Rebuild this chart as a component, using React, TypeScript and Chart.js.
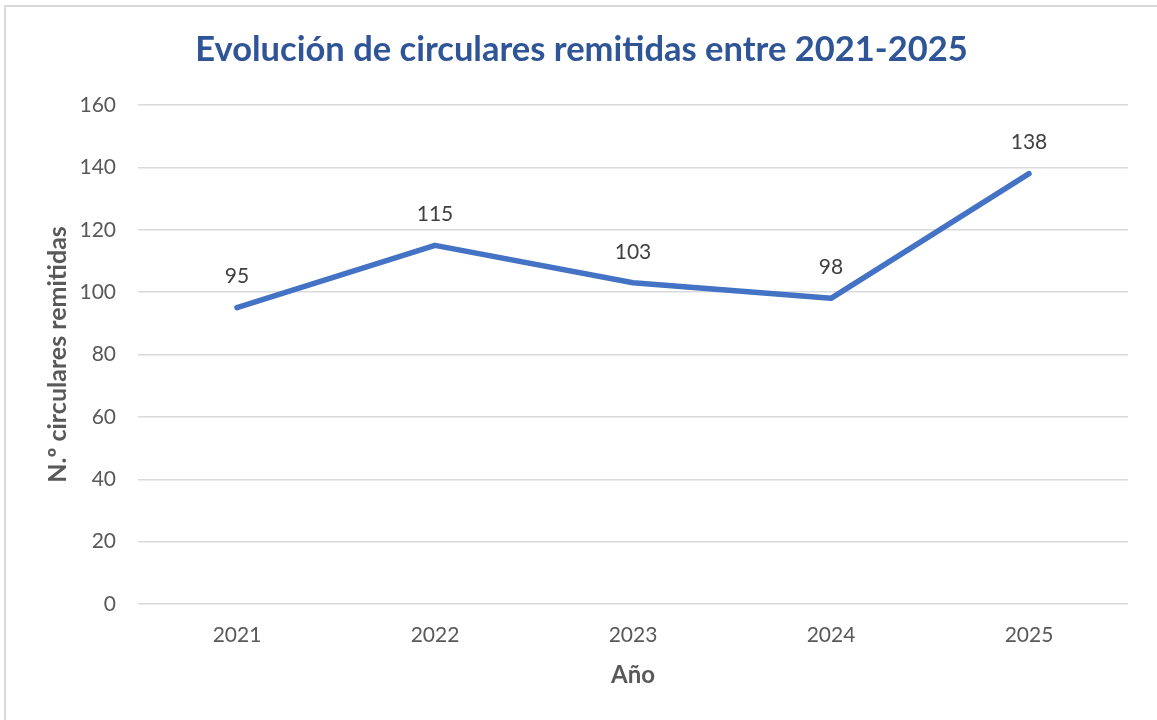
import React, { useEffect, useRef } from "react";
import { Chart, registerables } from "chart.js";

Chart.register(...registerables);

const years = ["2021", "2022", "2023", "2024", "2025"];
const circulares = [95, 115, 103, 98, 138];
const yMin = 0;
const yMax = 160;
const yStep = 20;
const chartTitle = "Evolución de circulares remitidas entre 2021-2025";
const yTitle = "N.º circulares remitidas";
const xTitle = "Año";

const FONT = "Lato, 'Open Sans', sans-serif";

const dataLabels = {
  id: "dataLabels",
  afterDatasetsDraw(chart: any) {
    const ctx = chart.ctx;
    const meta = chart.getDatasetMeta(0);
    ctx.save();
    ctx.font = `21px ${FONT}`;
    ctx.fillStyle = "#404040";
    ctx.textAlign = "center";
    ctx.textBaseline = "middle";
    meta.data.forEach((pt: any, i: number) => {
      ctx.fillText(String(circulares[i]), pt.x, pt.y - 31);
    });
    ctx.restore();
  },
};

const centeredTitle = {
  id: "centeredTitle",
  afterDraw(chart: any) {
    const ctx = chart.ctx;
    ctx.save();
    ctx.font = `bold 34.5px ${FONT}`;
    ctx.fillStyle = "#2F5597";
    ctx.textAlign = "center";
    ctx.textBaseline = "middle";
    ctx.fillText(chartTitle, chart.width / 2 + 3, 50);
    ctx.restore();
  },
};

export default function App() {
  const ref = useRef<HTMLCanvasElement | null>(null);
  useEffect(() => {
    document.body.style.margin = "0";
    const chart = new Chart(ref.current as HTMLCanvasElement, {
      type: "line",
      data: {
        labels: years,
        datasets: [
          {
            data: circulares,
            borderColor: "#4472C4",
            borderWidth: 5.5,
            borderCapStyle: "round",
            borderJoinStyle: "round",
            pointRadius: 0,
            pointHoverRadius: 0,
            tension: 0,
            fill: false,
          },
        ],
      },
      options: {
        animation: false,
        responsive: false,
        maintainAspectRatio: false,
        layout: { padding: { left: 0, right: 29, top: 105, bottom: 0 } },
        plugins: {
          legend: { display: false },
          tooltip: { enabled: false },
          title: { display: false },
        },
        scales: {
          x: {
            offset: true,
            grid: { display: false, drawTicks: false },
            border: { display: false },
            ticks: {
              color: "#595959",
              font: { family: FONT, size: 21 },
              padding: 19,
              maxRotation: 0,
            },
            title: {
              display: true,
              text: xTitle,
              color: "#595959",
              font: { family: FONT, size: 24, weight: "bold", lineHeight: 1.2 },
              padding: { top: 0, bottom: 30 },
            },
            afterFit(scale: any) {
              scale.height = 116;
            },
          },
          y: {
            min: yMin,
            max: yMax,
            grid: { color: "#d9d9d9", lineWidth: 1.5, drawTicks: false },
            border: { display: false },
            ticks: {
              stepSize: yStep,
              color: "#595959",
              font: { family: FONT, size: 21 },
              padding: 22,
            },
            title: {
              display: true,
              text: yTitle,
              color: "#595959",
              font: { family: FONT, size: 25, weight: "bold", lineHeight: 1.2 },
              padding: { top: 43, bottom: 0 },
            },
            afterFit(scale: any) {
              scale.width = 138;
            },
          },
        },
      },
      plugins: [dataLabels, centeredTitle],
    });
    return () => chart.destroy();
  }, []);

  return (
    <div
      style={{
        position: "relative",
        width: 1157,
        height: 720,
        overflow: "hidden",
        background: "#ffffff",
      }}
    >
      <div
        style={{
          position: "absolute",
          left: 4,
          top: 5,
          width: 1200,
          height: 800,
          border: "2px solid #d9d9d9",
        }}
      />
      <canvas
        ref={ref}
        width={1157}
        height={720}
        style={{ position: "absolute", left: 0, top: 0, width: 1157, height: 720 }}
      />
    </div>
  );
}
